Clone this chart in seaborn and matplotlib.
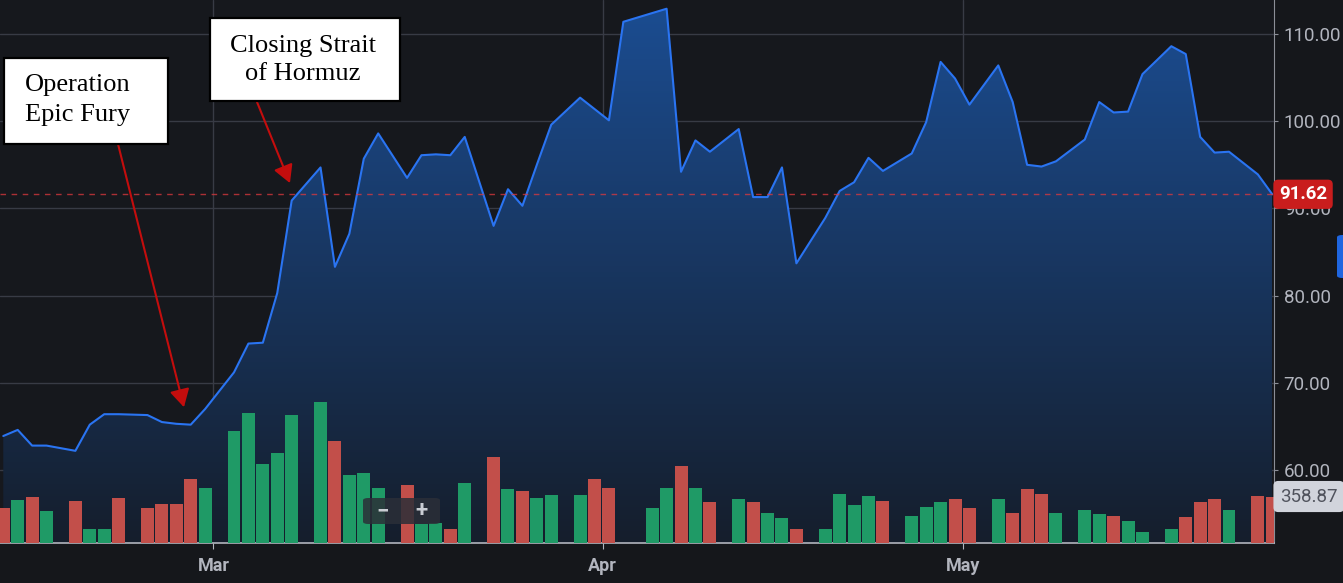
import numpy as np
import pandas as pd
import seaborn as sns
import matplotlib.pyplot as plt
from matplotlib.colors import LinearSegmentedColormap
from matplotlib.patches import Rectangle, FancyBboxPatch

# one entry per session slot, None = nothing drawn in that slot
price = [63.9, 64.6, 62.8, 62.8, None, 62.2, 65.2, 66.4, 66.4, None,
         66.3, 65.5, 65.3, 65.2, 67.0, None, 71.2, 74.5, 74.6, 80.3,
         90.9, None, 94.7, 83.3, 87.1, 95.7, 98.6, None, 93.5, 96.1,
         96.2, 96.1, 98.2, None, 88.0, 92.2, 90.3, 95.0, 99.6, None,
         102.7, 101.4, 100.1, 111.4, None, None, 112.9, 94.2, 97.8, 96.5,
         None, 99.1, 91.3, 91.3, 94.7, 83.7, None, 88.9, 92.0, 93.0,
         95.8, 94.3, None, 96.3, 99.9, 106.8, 104.9, 101.9, None, 106.4,
         102.2, 95.0, 94.8, 95.4, None, 97.9, 102.2, 101.0, 101.1, 105.4,
         None, 108.6, 107.7, 98.2, 96.4, 96.5, None, 93.9, 91.62]

volume = [270, 334, 357, 245, None, 324, 110, 110, 347, None,
          268, 299, 299, 494, 425, None, 867, 1004, 608, 697,
          990, None, 1091, 787, 525, 538, 425, None, 450, 147,
          154, 110, 461, None, 664, 415, 404, 347, 368, None,
          368, 494, 427, None, None, 268, 427, 597, 427, 314,
          None, 337, 314, 234, 191, 110, None, 110, 381, 291,
          361, 324, None, 211, 278, 314, 337, 268, None, 337,
          234, 417, 381, 234, None, 257, 224, 211, 168, 87,
          None, 110, 201, 314, 337, 257, None, 361, 358.87]

side = ['d', 'u', 'd', 'u', None, 'd', 'u', 'u', 'd', None,
        'd', 'd', 'd', 'd', 'u', None, 'u', 'u', 'u', 'u',
        'u', None, 'u', 'd', 'u', 'u', 'u', None, 'd', 'u',
        'u', 'd', 'u', None, 'd', 'u', 'd', 'u', 'u', None,
        'u', 'd', 'd', None, None, 'u', 'u', 'd', 'u', 'd',
        None, 'u', 'd', 'u', 'u', 'd', None, 'u', 'u', 'u',
        'u', 'd', None, 'u', 'u', 'u', 'd', 'd', None, 'u',
        'd', 'd', 'd', 'u', None, 'u', 'u', 'd', 'u', 'u',
        None, 'u', 'd', 'd', 'd', 'u', None, 'd', 'd']

month_labels = ['Mar', 'Apr', 'May']
month_slots = [15, 42, 67]
price_ticks = [60, 70, 80, 90, 100, 110]

W, H = 1343, 583
BG = '#15171b'
GRID = '#383b45'
TXT = '#b2b5be'
GREEN = '#1f9a66'
RED = '#c24f4a'

sns.set_style('dark')
plt.rcParams['font.family'] = ['Roboto', 'DejaVu Sans']

df = pd.DataFrame({'slot': np.arange(len(price)), 'price': price,
                   'volume': volume, 'side': side})
line_df = df.dropna(subset=['price'])
bar_df = df.dropna(subset=['volume'])

fig = plt.figure(figsize=(W / 100, H / 100), dpi=100, facecolor=BG)
ax = fig.add_axes([0, 40 / H, 1274 / W, 543 / H])
ax.set_facecolor('#16181d')

pmin, pmax = 51.63, 113.9
xmin, xmax = -0.227, 88.12

# gradient area under the line
x = line_df['slot'].to_numpy(float)
y = line_df['price'].to_numpy(float)
poly = ax.fill_between(x, y, pmin, color='none', lw=0)
cmap = LinearSegmentedColormap.from_list('fill', ['#151e2c', '#1b4d92'])
grad = np.linspace(0, 1, 256).reshape(-1, 1)
im = ax.imshow(grad, extent=[x.min(), x.max(), pmin, pmax], origin='lower',
               aspect='auto', cmap=cmap, zorder=1)
im.set_clip_path(poly.get_paths()[0], transform=ax.transData)

sns.lineplot(data=line_df, x='slot', y='price', ax=ax, color='#2a74f2',
             lw=1.5, zorder=3)
ax.axhline(price[-1], color='#e0393e', lw=1, ls=(0, (4, 4)), alpha=0.75, zorder=4)

# volume on its own scale
axv = ax.twinx()
sns.barplot(data=bar_df, x='slot', y='volume', hue='side',
            palette={'u': GREEN, 'd': RED}, native_scale=True, width=0.9,
            dodge=False, legend=False, errorbar=None, saturation=1,
            linewidth=0, ax=axv)
axv.set_ylim(0, 543 * 7.72)
axv.yaxis.set_visible(False)
axv.patch.set_visible(False)
for s in axv.spines.values():
    s.set_visible(False)

ax.set_xlim(xmin, xmax)
ax.set_ylim(pmin, pmax)
ax.yaxis.tick_right()
ax.set_yticks(price_ticks)
ax.set_yticklabels([f'{v:.2f}' for v in price_ticks])
ax.set_xticks([m - 0.43 for m in month_slots])
ax.set_xticklabels(month_labels, fontweight='semibold')
ax.set_xlabel('')
ax.set_ylabel('')
ax.grid(True, color=GRID, lw=1)
ax.tick_params(axis='y', labelsize=13.5, labelcolor=TXT, color='#8b8e97',
               length=3, pad=4, right=True, left=False)
ax.tick_params(axis='x', labelsize=13, labelcolor=TXT, color=TXT,
               length=4, pad=6, bottom=True)
for k in ['top', 'left']:
    ax.spines[k].set_visible(False)
ax.spines['right'].set_color('#8b8e97')
ax.spines['bottom'].set_color(TXT)
ax.spines['bottom'].set_linewidth(1.2)

# last value labels
ax.annotate(f'{price[-1]:.2f}', xy=(1, price[-1]),
            xycoords=('axes fraction', 'data'), xytext=(5, 0),
            textcoords='offset pixels', ha='left', va='center',
            fontsize=13.5, fontweight='bold', color='white', zorder=10,
            annotation_clip=False,
            bbox=dict(boxstyle='round,pad=0.3,rounding_size=0.25',
                      fc='#c91d1d', ec='none'))
axv.annotate(f'{volume[-1]:.2f}', xy=(1, volume[-1]),
             xycoords=('axes fraction', 'data'), xytext=(6, 0),
             textcoords='offset pixels', ha='left', va='center',
             fontsize=13.5, color='#50535d', zorder=10, annotation_clip=False,
             bbox=dict(boxstyle='round,pad=0.35,rounding_size=0.25',
                       fc='#d1d4dc', ec='none'))

# side button and zoom control
fig.patches.append(FancyBboxPatch((1337 / W, 1 - 278 / H), 12 / W, 43 / H,
                                  boxstyle='round,pad=0,rounding_size=0.004',
                                  fc='#1f66e0', ec='none',
                                  transform=fig.transFigure, figure=fig))
fig.patches.append(FancyBboxPatch((363 / W, 1 - 524 / H), 77 / W, 26 / H,
                                  boxstyle='round,pad=0,rounding_size=0.004',
                                  fc='#2b2f38', ec='none', alpha=0.85,
                                  transform=fig.transFigure, figure=fig))
fig.text(383 / W, 1 - 511 / H, '\u2212', ha='center', va='center',
         fontsize=16, fontweight='bold', color='#c9ccd3')
fig.text(421 / W, 1 - 511 / H, '+', ha='center', va='center',
         fontsize=16, fontweight='bold', color='#c9ccd3')

# event call-outs
serif = ['Liberation Serif', 'DejaVu Serif']
fig.patches.append(Rectangle((4 / W, 1 - 144 / H), 164 / W, 86 / H,
                             fc='white', ec='black', lw=1.6,
                             transform=fig.transFigure, figure=fig))
fig.text(25 / W, 1 - 100 / H, 'Operation\nEpic Fury', ha='left', va='center',
         fontsize=19, family=serif, color='black', linespacing=1.45)
fig.patches.append(Rectangle((210 / W, 1 - 101 / H), 190 / W, 83 / H,
                             fc='white', ec='black', lw=1.6,
                             transform=fig.transFigure, figure=fig))
fig.text(303 / W, 1 - 60 / H, 'Closing Strait\nof Hormuz', ha='center',
         va='center', fontsize=19, family=serif, color='black',
         linespacing=1.35)

arrow = dict(arrowstyle='-|>,head_length=0.9,head_width=0.5',
             color='#c40d0d', lw=1.5, shrinkA=0, shrinkB=0, mutation_scale=12)
ax.annotate('', xy=(12.53, 67.2), xytext=(118 / W, 1 - 144 / H),
            textcoords='figure fraction', arrowprops=arrow, zorder=6)
ax.annotate('', xy=(19.88, 92.9), xytext=(257 / W, 1 - 102 / H),
            textcoords='figure fraction', arrowprops=arrow, zorder=6)

fig.savefig('out.png', dpi=100, facecolor=BG)
